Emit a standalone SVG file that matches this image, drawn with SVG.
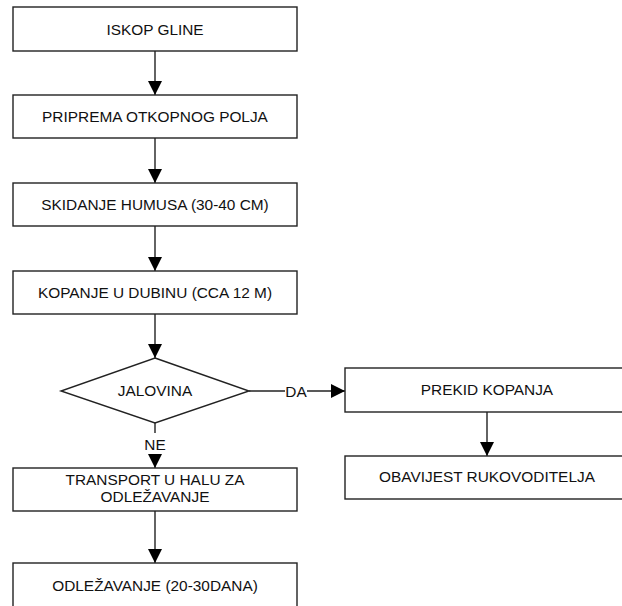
<svg xmlns="http://www.w3.org/2000/svg" width="622" height="606" viewBox="0 0 622 606">
<style>
.b{fill:#fff;stroke:#222;stroke-width:1.4}
.t{font-family:"Liberation Sans",Arial,sans-serif;font-size:15.4px;fill:#111;text-anchor:middle}
.c{fill:none;stroke:#222;stroke-width:1.4}
</style>
<defs>
<marker id="ah" markerWidth="15" markerHeight="14" refX="14" refY="7" orient="auto" markerUnits="userSpaceOnUse">
<path d="M0,0 L14,7 L0,14 Z" fill="#000"/>
</marker>
</defs>
<rect width="622" height="606" fill="#fff"/>
<g id="connectors">
<line class="c" x1="155" y1="51" x2="155" y2="95" marker-end="url(#ah)"/>
<line class="c" x1="155" y1="138" x2="155" y2="183" marker-end="url(#ah)"/>
<line class="c" x1="155" y1="226" x2="155" y2="271" marker-end="url(#ah)"/>
<line class="c" x1="155" y1="314" x2="155" y2="358" marker-end="url(#ah)"/>
<line class="c" x1="249" y1="391" x2="285" y2="391"/>
<text class="t" x="296" y="396.5">DA</text>
<line class="c" x1="307" y1="391" x2="345" y2="391" marker-end="url(#ah)"/>
<line class="c" x1="155" y1="423" x2="155" y2="433"/>
<text class="t" x="155" y="450">NE</text>
<line class="c" x1="155" y1="455" x2="155" y2="468" marker-end="url(#ah)"/>
<line class="c" x1="155" y1="511" x2="155" y2="563" marker-end="url(#ah)"/>
<line class="c" x1="487" y1="412" x2="487" y2="456" marker-end="url(#ah)"/>
</g>
<g id="n1"><rect class="b" x="13" y="7" width="284" height="44"/><text class="t" x="155" y="34.5">ISKOP GLINE</text></g>
<g id="n2"><rect class="b" x="13" y="95" width="284" height="43"/><text class="t" x="155" y="122">PRIPREMA OTKOPNOG POLJA</text></g>
<g id="n3"><rect class="b" x="13" y="183" width="284" height="43"/><text class="t" x="155" y="210">SKIDANJE HUMUSA (30-40 CM)</text></g>
<g id="n4"><rect class="b" x="13" y="271" width="284" height="43"/><text class="t" x="155" y="298">KOPANJE U DUBINU (CCA 12 M)</text></g>
<g id="n5"><polygon class="b" points="155,358 249,391 155,423 61,391"/><text class="t" x="155" y="395.5">JALOVINA</text></g>
<g id="n6"><rect class="b" x="345" y="368" width="284" height="44"/><text class="t" x="487" y="395">PREKID KOPANJA</text></g>
<g id="n7"><rect class="b" x="345" y="456" width="284" height="43"/><text class="t" x="487" y="482">OBAVIJEST RUKOVODITELJA</text></g>
<g id="n8"><rect class="b" x="13" y="468" width="284" height="43"/><text class="t" x="155" y="485">TRANSPORT U HALU ZA</text><text class="t" x="155" y="502">ODLEŽAVANJE</text></g>
<g id="n9"><rect class="b" x="13" y="563" width="284" height="60"/><text class="t" x="155" y="591">ODLEŽAVANJE (20-30DANA)</text></g>
</svg>
